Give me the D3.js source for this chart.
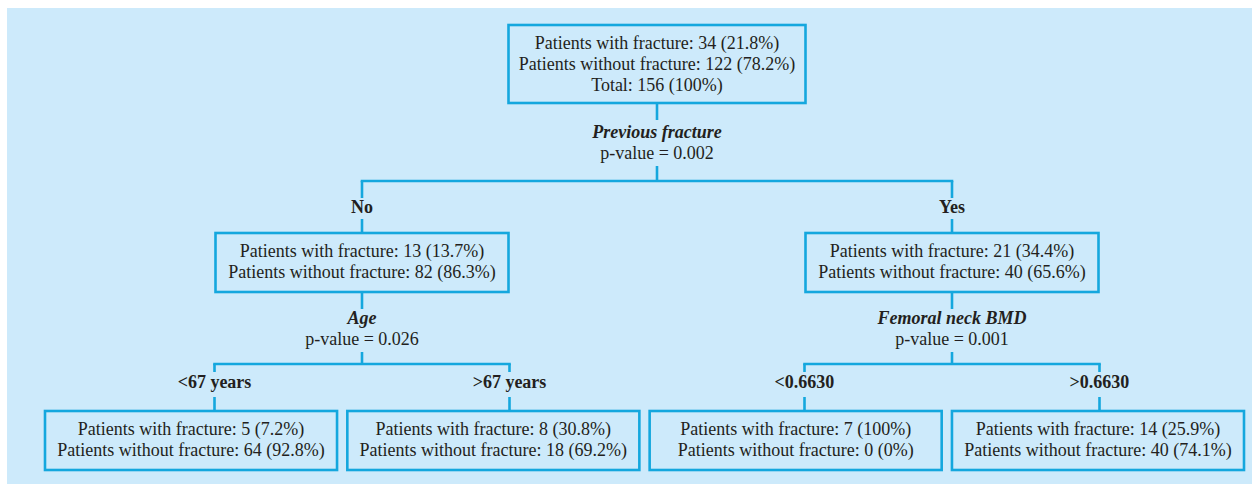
<!DOCTYPE html>
<html>
<head>
<meta charset="utf-8">
<script src="https://cdn.jsdelivr.net/npm/d3@7"></script>
<style>
  body { margin: 0; background: #fff; }
  text { font-family: "Liberation Serif", serif; fill: #231f20; font-size: 18px; }
  .branch { font-weight: bold; }
  .split { font-weight: bold; font-style: italic; }
</style>
</head>
<body>
<script>
"use strict";

// tree nodes
var nodeIds = ["root", "no", "yes", "lt67", "gt67", "lt6630", "gt6630"];
var parentIds = ["", "root", "root", "no", "no", "yes", "yes"];
var branchLabels = ["", "No", "Yes", "<67 years", ">67 years", "<0.6630", ">0.6630"];

// counts per node
var withFracture = [34, 13, 21, 5, 8, 7, 14];
var withFracturePct = ["21.8%", "13.7%", "34.4%", "7.2%", "30.8%", "100%", "25.9%"];
var withoutFracture = [122, 82, 40, 64, 18, 0, 40];
var withoutFracturePct = ["78.2%", "86.3%", "65.6%", "92.8%", "69.2%", "0%", "74.1%"];
var rootTotal = "Total: 156 (100%)";

// splits
var splitNodes = ["root", "no", "yes"];
var splitVars = ["Previous fracture", "Age", "Femoral neck BMD"];
var splitPValues = ["0.002", "0.026", "0.001"];

var W = 1252, H = 484;
var blue = "#14a7de";

// per depth layout
var boxTop = [25, 233, 411];
var boxH = [78, 59, 59];
var boxW = [297, 293];
var hLineY = [181, 364];
var stubDown = [17, 8];
var labelBase = [32, 24];
var labelGap = [6, 9];
var splitBase = [35, 32];

var rows = nodeIds.map(function(id, i) {
    var lines = [
        "Patients with fracture: " + withFracture[i] + " (" + withFracturePct[i] + ")",
        "Patients without fracture: " + withoutFracture[i] + " (" + withoutFracturePct[i] + ")"
    ];
    if (id === "root") lines.push(rootTotal);
    var s = splitNodes.indexOf(id);
    return {
        id: id, parent: parentIds[i] || null, label: branchLabels[i], lines: lines,
        split: s >= 0 ? { name: splitVars[s], p: splitPValues[s] } : null
    };
});

var root = d3.stratify().id(function(d) { return d.id; }).parentId(function(d) { return d.parent; })(rows);
d3.tree().nodeSize([295, 1]).separation(function() { return 1; })(root);

var x = function(n) { return 657 + n.x; };

var leafBand = d3.scaleBand()
    .domain(root.leaves().map(function(d) { return d.id; }))
    .range([45, 1244])
    .paddingInner(0.034);

function boxOf(n) {
    var d = n.depth;
    if (!n.children) {
        return { x: leafBand(n.id), y: boxTop[d], w: leafBand.bandwidth(), h: boxH[d] };
    }
    return { x: x(n) - boxW[d] / 2, y: boxTop[d], w: boxW[d], h: boxH[d] };
}

var svg = d3.select("body").append("svg")
    .attr("width", W)
    .attr("height", H);

svg.append("rect")
    .attr("x", 7).attr("y", 8)
    .attr("width", W - 7).attr("height", H - 8)
    .attr("fill", "#cdeafb");

var g = svg.append("g");

// boxes and their text
root.descendants().forEach(function(n) {
    var b = boxOf(n);
    g.append("rect")
        .attr("x", b.x).attr("y", b.y)
        .attr("width", b.w).attr("height", b.h)
        .attr("fill", "none")
        .attr("stroke", blue)
        .attr("stroke-width", 2.6);

    g.selectAll(null)
        .data(n.data.lines)
        .enter().append("text")
        .attr("x", b.x + b.w / 2)
        .attr("y", function(d, i) { return b.y + 24 + i * 21; })
        .attr("text-anchor", "middle")
        .text(function(d) { return d; });

    // split below the box
    if (n.children) {
        var d = n.depth;
        var bottom = b.y + b.h;
        var sy = bottom + splitBase[d];
        var cx = x(n);
        g.append("line")
            .attr("x1", cx).attr("x2", cx)
            .attr("y1", bottom).attr("y2", bottom + 17)
            .attr("stroke", blue).attr("stroke-width", 2.6);
        g.append("text").attr("class", "split")
            .attr("x", cx).attr("y", sy)
            .attr("text-anchor", "middle")
            .text(n.data.split.name);
        g.append("text")
            .attr("x", cx).attr("y", sy + 21)
            .attr("text-anchor", "middle")
            .text("p-value = " + n.data.split.p);
        g.append("line")
            .attr("x1", cx).attr("x2", cx)
            .attr("y1", sy + 28).attr("y2", hLineY[d])
            .attr("stroke", blue).attr("stroke-width", 2.6);

        var xs = n.children.map(x);
        g.append("line")
            .attr("x1", d3.min(xs) - 1.3).attr("x2", d3.max(xs) + 1.3)
            .attr("y1", hLineY[d]).attr("y2", hLineY[d])
            .attr("stroke", blue).attr("stroke-width", 2.6);

        n.children.forEach(function(c) {
            var cxx = x(c);
            var ly = hLineY[d] + labelBase[d];
            g.append("line")
                .attr("x1", cxx).attr("x2", cxx)
                .attr("y1", hLineY[d]).attr("y2", hLineY[d] + stubDown[d])
                .attr("stroke", blue).attr("stroke-width", 2.6);
            g.append("text").attr("class", "branch")
                .attr("x", cxx).attr("y", ly)
                .attr("text-anchor", "middle")
                .text(c.data.label);
            g.append("line")
                .attr("x1", cxx).attr("x2", cxx)
                .attr("y1", ly + labelGap[d]).attr("y2", boxTop[c.depth])
                .attr("stroke", blue).attr("stroke-width", 2.6);
        });
    }
});
</script>
</body>
</html>
